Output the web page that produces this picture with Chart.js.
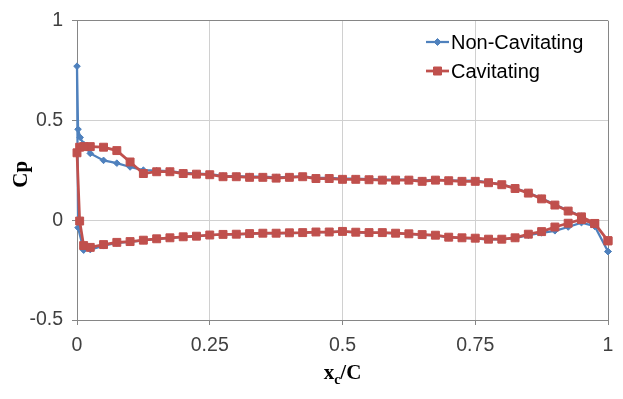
<!DOCTYPE html>
<html>
<head>
<meta charset="utf-8">
<script src="https://cdn.jsdelivr.net/npm/chart.js@4.4.1/dist/chart.umd.min.js"></script>
<style>
  html, body { margin: 0; padding: 0; background: #fff; }
  #wrap { width: 623px; height: 399px; }
</style>
</head>
<body>
<div id="wrap"><canvas id="cp" width="623" height="399"></canvas></div>
<script>
// x/C stations and Cp values
// upper arrays run leading edge -> trailing edge, lower arrays too

// Non-Cavitating
let ncUpperX = [0, 0.002, 0.006, 0.0125, 0.025, 0.05, 0.075, 0.1, 0.125, 0.15, 0.175, 0.2, 0.225, 0.25, 0.275, 0.3, 0.325, 0.35, 0.375, 0.4, 0.425, 0.45, 0.475, 0.5, 0.525, 0.55, 0.575, 0.6, 0.625, 0.65, 0.675, 0.7, 0.725, 0.75, 0.775, 0.8, 0.825, 0.85, 0.875, 0.9, 0.925, 0.95, 0.975, 1];
let ncUpperCp = [0.772, 0.456, 0.415, 0.38, 0.335, 0.3, 0.286, 0.267, 0.251, 0.248, 0.246, 0.238, 0.234, 0.231, 0.222, 0.221, 0.219, 0.218, 0.215, 0.217, 0.22, 0.212, 0.212, 0.208, 0.208, 0.206, 0.204, 0.204, 0.204, 0.199, 0.203, 0.2, 0.198, 0.198, 0.19, 0.18, 0.161, 0.138, 0.11, 0.079, 0.049, 0.02, -0.03, -0.157];
let ncLowerX = [0.002, 0.0125, 0.025, 0.05, 0.075, 0.1, 0.125, 0.15, 0.175, 0.2, 0.225, 0.25, 0.275, 0.3, 0.325, 0.35, 0.375, 0.4, 0.425, 0.45, 0.475, 0.5, 0.525, 0.55, 0.575, 0.6, 0.625, 0.65, 0.675, 0.7, 0.725, 0.75, 0.775, 0.8, 0.825, 0.85, 0.875, 0.9, 0.925, 0.95, 0.975, 1];
let ncLowerCp = [-0.037, -0.15, -0.147, -0.128, -0.114, -0.108, -0.101, -0.094, -0.089, -0.084, -0.081, -0.075, -0.072, -0.071, -0.068, -0.066, -0.066, -0.064, -0.063, -0.06, -0.06, -0.057, -0.061, -0.063, -0.063, -0.066, -0.069, -0.073, -0.076, -0.086, -0.089, -0.092, -0.096, -0.096, -0.09, -0.075, -0.063, -0.053, -0.034, -0.012, -0.03, -0.157];

// Cavitating
let cavUpperX = [0, 0.005, 0.0125, 0.025, 0.05, 0.075, 0.1, 0.125, 0.15, 0.175, 0.2, 0.225, 0.25, 0.275, 0.3, 0.325, 0.35, 0.375, 0.4, 0.425, 0.45, 0.475, 0.5, 0.525, 0.55, 0.575, 0.6, 0.625, 0.65, 0.675, 0.7, 0.725, 0.75, 0.775, 0.8, 0.825, 0.85, 0.875, 0.9, 0.925, 0.95, 0.975, 1];
let cavUpperCp = [0.338, 0.366, 0.369, 0.369, 0.366, 0.349, 0.292, 0.234, 0.243, 0.243, 0.234, 0.231, 0.228, 0.218, 0.218, 0.215, 0.215, 0.211, 0.215, 0.218, 0.209, 0.209, 0.205, 0.205, 0.203, 0.201, 0.201, 0.201, 0.195, 0.201, 0.198, 0.195, 0.195, 0.188, 0.178, 0.159, 0.136, 0.107, 0.076, 0.046, 0.017, -0.016, -0.103];
let cavLowerX = [0.005, 0.0125, 0.025, 0.05, 0.075, 0.1, 0.125, 0.15, 0.175, 0.2, 0.225, 0.25, 0.275, 0.3, 0.325, 0.35, 0.375, 0.4, 0.425, 0.45, 0.475, 0.5, 0.525, 0.55, 0.575, 0.6, 0.625, 0.65, 0.675, 0.7, 0.725, 0.75, 0.775, 0.8, 0.825, 0.85, 0.875, 0.9, 0.925, 0.95, 0.975, 1];
let cavLowerCp = [-0.004, -0.127, -0.136, -0.122, -0.111, -0.107, -0.1, -0.093, -0.088, -0.083, -0.08, -0.074, -0.071, -0.07, -0.067, -0.065, -0.065, -0.063, -0.062, -0.059, -0.059, -0.056, -0.06, -0.062, -0.062, -0.065, -0.068, -0.072, -0.075, -0.085, -0.088, -0.09, -0.095, -0.095, -0.088, -0.07, -0.057, -0.034, -0.015, 0.004, -0.017, -0.103];

let xTicks = ['0', '0.25', '0.5', '0.75', '1'];
let yTicks = ['-0.5', '0', '0.5', '1'];

let seriesNames = ['Non-Cavitating', 'Cavitating'];
let blue = '#4F81BD';
let red = '#C0504D';
let gridGrey = '#d0d0d0';
let axisGrey = '#868686';

// trailing edge (upper) -> leading edge -> trailing edge (lower)
function loop(ux, ucp, lx, lcp) {
  let pts = [];
  for (let i = ux.length - 1; i >= 0; i--) pts.push({x: ux[i], y: ucp[i]});
  for (let i = 0; i < lx.length; i++) pts.push({x: lx[i], y: lcp[i]});
  return pts;
}

function drawMarker(ctx, style, x, y, color) {
  ctx.fillStyle = color;
  ctx.strokeStyle = color;
  ctx.lineWidth = 1;
  ctx.beginPath();
  if (style == 'rect') {
    ctx.rect(x - 4, y - 4, 8, 8);
  } else {
    ctx.moveTo(x - 3.5, y);
    ctx.lineTo(x, y - 3.5);
    ctx.lineTo(x + 3.5, y);
    ctx.lineTo(x, y + 3.5);
    ctx.closePath();
  }
  ctx.fill();
  ctx.stroke();
}

// last gridline on each axis is the darker plot edge
function gridColor(ctx) {
  return ctx.tick && ctx.index == ctx.scale.ticks.length - 1 ? axisGrey : gridGrey;
}

// axis titles and legend, Excel style (line + marker sample)
const overlay = {
  id: 'overlay',
  afterDraw(chart) {
    const ctx = chart.ctx;
    const area = chart.chartArea;
    ctx.save();

    // y title
    ctx.fillStyle = '#000';
    ctx.font = 'bold 21px "Liberation Serif"';
    ctx.textAlign = 'center';
    ctx.textBaseline = 'middle';
    ctx.translate(22, (area.top + area.bottom) / 2 + 4);
    ctx.rotate(-Math.PI / 2);
    ctx.fillText('Cp', 0, 0);
    ctx.setTransform(1, 0, 0, 1, 0, 0);

    // x title with subscript
    let big = 'bold 21px "Liberation Serif"';
    let small = 'bold 14px "Liberation Serif"';
    ctx.textAlign = 'left';
    ctx.textBaseline = 'alphabetic';
    ctx.font = big;
    let w1 = ctx.measureText('x').width;
    let w3 = ctx.measureText('/C').width;
    ctx.font = small;
    let w2 = ctx.measureText('c').width;
    let cx = (area.left + area.right) / 2;
    let x0 = cx - (w1 + w2 + w3) / 2;
    let base = 379;
    ctx.font = big;
    ctx.fillText('x', x0, base);
    ctx.font = small;
    ctx.fillText('c', x0 + w1, base + 5);
    ctx.font = big;
    ctx.fillText('/C', x0 + w1 + w2, base);

    // legend
    let rows = [
      {name: seriesNames[0], color: blue, style: 'rectRot', width: 2.25, y: 42},
      {name: seriesNames[1], color: red, style: 'rect', width: 2.75, y: 71}
    ];
    ctx.font = '20px "Liberation Sans"';
    ctx.textBaseline = 'middle';
    rows.forEach(r => {
      ctx.strokeStyle = r.color;
      ctx.lineWidth = r.width;
      ctx.beginPath();
      ctx.moveTo(426, r.y);
      ctx.lineTo(449, r.y);
      ctx.stroke();
      drawMarker(ctx, r.style, 437.5, r.y, r.color);
      ctx.fillStyle = '#000';
      ctx.fillText(r.name, 451, r.y + 1);
    });
    ctx.restore();
  }
};

let chart = new Chart(document.getElementById('cp'), {
  type: 'scatter',
  data: {
    datasets: [{
      label: seriesNames[0],
      data: loop(ncUpperX, ncUpperCp, ncLowerX, ncLowerCp),
      showLine: true,
      borderColor: blue,
      backgroundColor: blue,
      borderWidth: 2.25,
      pointStyle: 'rectRot',
      pointRadius: 3.3,
      pointBorderWidth: 1,
      tension: 0,
      clip: false,
      order: 2
    }, {
      label: seriesNames[1],
      data: loop(cavUpperX, cavUpperCp, cavLowerX, cavLowerCp),
      showLine: true,
      borderColor: red,
      backgroundColor: red,
      borderWidth: 2.75,
      pointStyle: 'rect',
      pointRadius: 5.6,
      pointBorderWidth: 1,
      tension: 0,
      clip: false,
      order: 1
    }]
  },
  options: {
    responsive: false,
    animation: false,
    layout: { padding: { top: 15, right: 15, left: 0, bottom: 0 } },
    plugins: {
      legend: { display: false },
      tooltip: { enabled: false }
    },
    scales: {
      x: {
        type: 'linear',
        min: 0,
        max: 1,
        afterFit: s => { s.height = 79; },
        afterBuildTicks: s => { s.ticks = xTicks.map(t => ({value: parseFloat(t)})); },
        ticks: {
          autoSkip: false,
          maxRotation: 0,
          padding: 9,
          color: '#404040',
          font: { family: 'Liberation Sans', size: 19.5 },
          callback: (v, i) => xTicks[i]
        },
        grid: { color: gridColor, lineWidth: 1, tickLength: 5, tickColor: axisGrey },
        border: { color: axisGrey, width: 1 }
      },
      y: {
        type: 'linear',
        min: -0.5,
        max: 1,
        afterFit: s => { s.width = 77; },
        afterBuildTicks: s => { s.ticks = yTicks.map(t => ({value: parseFloat(t)})); },
        ticks: {
          autoSkip: false,
          padding: 9,
          color: '#404040',
          font: { family: 'Liberation Sans', size: 19.5 },
          callback: (v, i) => yTicks[i]
        },
        grid: { color: gridColor, lineWidth: 1, tickLength: 5, tickColor: axisGrey },
        border: { color: axisGrey, width: 1 }
      }
    }
  },
  plugins: [overlay]
});
</script>
</body>
</html>
